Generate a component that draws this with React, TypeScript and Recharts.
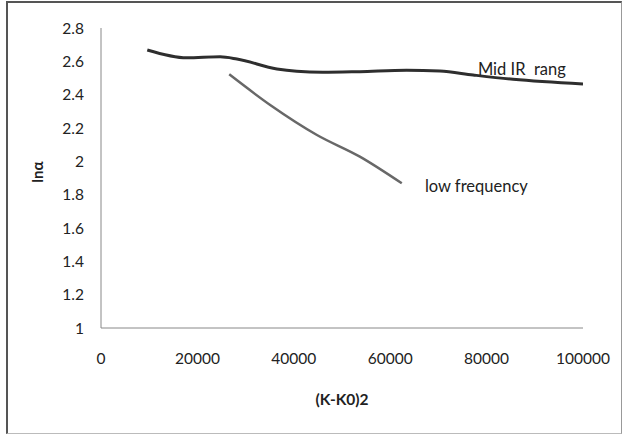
import React from "react";
import { LineChart, Line, XAxis, YAxis, ReferenceDot } from "recharts";

const midIrX = [9600, 17800, 24700, 28200, 36500, 40600, 46000, 53700, 63400, 70300, 77200, 85500, 100000];
const midIrY = [2.668, 2.621, 2.627, 2.614, 2.554, 2.54, 2.534, 2.538, 2.546, 2.542, 2.518, 2.492, 2.464];
const lowFreqX = [26600, 35100, 44800, 53700, 62400];
const lowFreqY = [2.522, 2.338, 2.158, 2.028, 1.868];
const xTicks = [0, 20000, 40000, 60000, 80000, 100000];
const yTicks = [1, 1.2, 1.4, 1.6, 1.8, 2, 2.2, 2.4, 2.6, 2.8];

const midIr = midIrX.map((x, i) => ({ x, y: midIrY[i] }));
const lowFreq = lowFreqX.map((x, i) => ({ x, y: lowFreqY[i] }));

const FONT = "Lato, 'Open Sans', sans-serif";

const textLabel = (text: string) => (props: any) => {
  const vb = props.viewBox || {};
  return (
    <text
      x={vb.x}
      y={vb.y}
      fontFamily={FONT}
      fontSize={16.5}
      fill="#222"
      textAnchor="start"
      style={{ whiteSpace: "pre" }}
      xmlSpace="preserve"
    >
      {text}
    </text>
  );
};

const yTitle = (props: any) => {
  const vb = props.viewBox || {};
  const cx = vb.x + 37;
  const cy = vb.y + vb.height / 2 - 6;
  return (
    <text
      x={cx}
      y={cy}
      transform={`rotate(-90, ${cx}, ${cy})`}
      textAnchor="middle"
      dominantBaseline="central"
      fontFamily={FONT}
      fontSize={15}
      fontWeight={700}
      fill="#222"
    >
      lnα
    </text>
  );
};

export default function App() {
  return (
    <div style={{ position: "absolute", left: 0, top: 0, width: 624, height: 435, background: "#fff" }}>
      <div
        style={{
          position: "absolute",
          left: 6,
          top: 1,
          width: 616,
          height: 433,
          borderLeft: "2px solid #555",
          borderTop: "2px solid #555",
          borderRight: "1px solid #999",
          borderBottom: "1px solid #bbb",
          boxSizing: "border-box",
        }}
      />
      <div style={{ position: "absolute", left: 0, top: 0 }}>
        <LineChart width={624} height={435} margin={{ top: 28, right: 41, bottom: 0, left: 0 }}>
          <XAxis
            type="number"
            dataKey="x"
            domain={[0, 100000]}
            ticks={xTicks}
            allowDataOverflow
            height={107}
            tickLine={false}
            tickSize={0}
            tickMargin={25}
            axisLine={{ stroke: "#888", strokeWidth: 1 }}
            tick={{ fill: "#222", fontSize: 15.5, fontFamily: FONT }}
            label={{
              value: "(K-K0)2",
              position: "insideTop",
              offset: 66,
              fill: "#222",
              fontSize: 15.5,
              fontWeight: 700,
              fontFamily: FONT,
            }}
          />
          <YAxis
            type="number"
            dataKey="y"
            domain={[1, 2.8]}
            ticks={yTicks}
            allowDataOverflow
            width={101}
            tickLine={false}
            tickSize={0}
            tickMargin={17}
            axisLine={{ stroke: "#888", strokeWidth: 1 }}
            tick={{ fill: "#222", fontSize: 15.5, fontFamily: FONT }}
            label={yTitle}
          />
          <Line
            data={midIr}
            dataKey="y"
            type="monotone"
            stroke="#2e2e2e"
            strokeWidth={3}
            dot={false}
            activeDot={false}
            isAnimationActive={false}
          />
          <Line
            data={lowFreq}
            dataKey="y"
            type="monotone"
            stroke="#686868"
            strokeWidth={2.5}
            dot={false}
            activeDot={false}
            isAnimationActive={false}
          />
          <ReferenceDot x={78200} y={2.518} r={0} fill="none" stroke="none" label={textLabel("Mid IR  rang")} />
          <ReferenceDot x={67200} y={1.816} r={0} fill="none" stroke="none" label={textLabel("low frequency")} />
        </LineChart>
      </div>
    </div>
  );
}
